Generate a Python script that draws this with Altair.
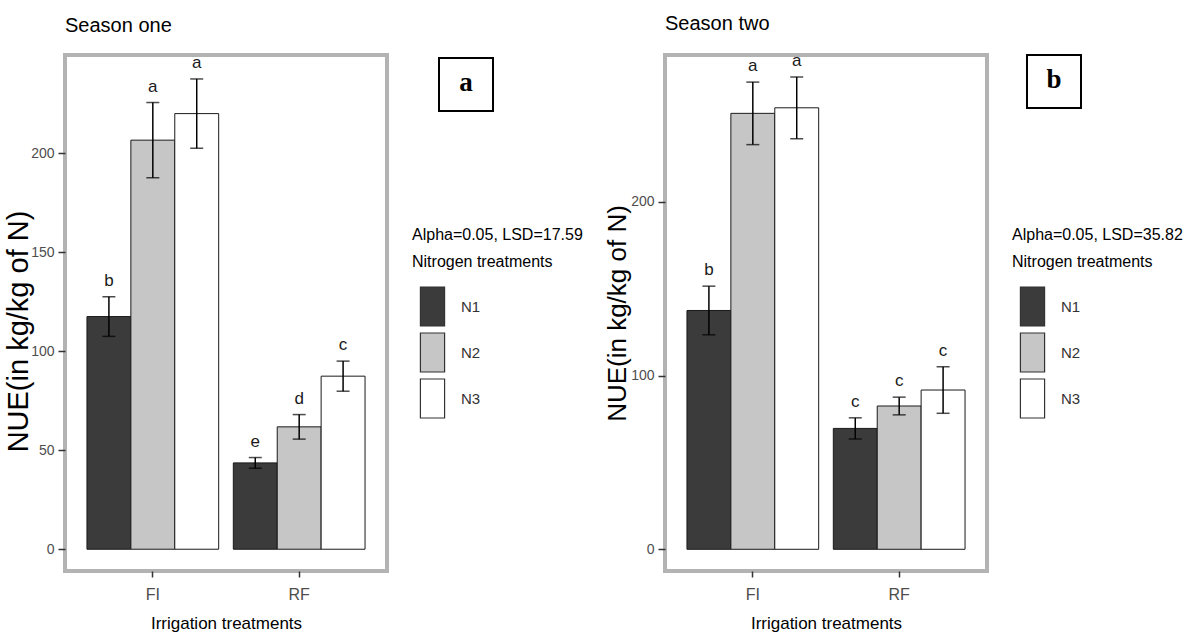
import altair as alt
import pandas as pd

# Treatments
irrigation = ["FI", "FI", "FI", "RF", "RF", "RF"]
nitrogen = ["N1", "N2", "N3", "N1", "N2", "N3"]

# Season one: mean NUE, error half-width, LSD grouping letters
s1_mean = [117.5, 206.6, 220.0, 43.6, 61.8, 87.4]
s1_err = [10.0, 19.0, 17.5, 2.7, 6.2, 7.6]
s1_letters = ["b", "a", "a", "e", "d", "c"]

# Season two
s2_mean = [137.5, 251.0, 254.2, 69.6, 82.5, 91.7]
s2_err = [14.0, 18.0, 17.8, 6.1, 5.1, 13.4]
s2_letters = ["b", "a", "a", "c", "c", "c"]

SANS = "Liberation Sans, Arial, sans-serif"
SERIF = "Liberation Serif, Times New Roman, serif"

fill_colors = ["#3b3b3b", "#c6c6c6", "#ffffff"]
# tall rectangular key, like ggplot's filled legend keys
key_shape = "M-0.62,-1H0.62V1H-0.62Z"


def season_panel(title, means, errs, letters, ydomain, yticks, lsd_title, tag, tag_x, tag_y,
                 ytitle_size, ytitle_pad, ytitle_y):
    df = pd.DataFrame({
        "irrigation": irrigation,
        "nitrogen": nitrogen,
        "nue": means,
        "lower": [m - e for m, e in zip(means, errs)],
        "upper": [m + e for m, e in zip(means, errs)],
        "letter": letters,
    })
    base = alt.Chart(df)
    x = alt.X(
        "irrigation:N",
        title="Irrigation treatments",
        scale=alt.Scale(paddingInner=0.1, paddingOuter=0.15),
        axis=alt.Axis(
            labelAngle=0, labelFont=SANS, labelFontSize=16, labelColor="#4d4d4d",
            labelPadding=9, tickSize=6, tickColor="#333333", tickWidth=1.5,
            domain=False, grid=False,
            titleFont=SANS, titleFontSize=17, titleFontWeight="normal",
            titleColor="#000000", titlePadding=13,
        ),
    )
    xo = alt.XOffset("nitrogen:N", scale=alt.Scale(paddingInner=0, paddingOuter=0))
    yscale = alt.Scale(domain=ydomain, nice=False, zero=False)

    bars = base.mark_bar(stroke="#1a1a1a", strokeWidth=1).encode(
        x=x,
        xOffset=xo,
        y=alt.Y(
            "nue:Q",
            scale=yscale,
            title="NUE(in kg/kg of N)",
            axis=alt.Axis(
                values=yticks, labelFont=SANS, labelFontSize=14, labelColor="#4d4d4d",
                labelPadding=4, tickSize=7, tickColor="#333333", tickWidth=1.5,
                domain=False, grid=False,
                titleFont=SANS, titleFontSize=ytitle_size, titleFontWeight="normal",
                titleColor="#000000", titlePadding=ytitle_pad, titleY=ytitle_y,
            ),
        ),
        y2=alt.datum(0),
        color=alt.Color(
            "nitrogen:N",
            scale=alt.Scale(domain=["N1", "N2", "N3"], range=fill_colors),
            legend=alt.Legend(
                title=[lsd_title, "Nitrogen treatments"],
                orient="none", legendX=347, legendY=172,
                titleFont=SANS, titleFontSize=16, titleFontWeight="normal",
                titleColor="#000000", titleLineHeight=27, titlePadding=16,
                titleLimit=400,
                labelFont=SANS, labelFontSize=15, labelColor="#333333",
                labelOffset=8,
                symbolType=key_shape, symbolSize=1521, symbolStrokeColor="#333333",
                symbolStrokeWidth=1.2, symbolOpacity=1, symbolFillColor="#ffffff",
                rowPadding=1,
            ),
        ),
    )
    whisk = base.mark_rule(color="#000000", strokeWidth=1.5).encode(
        x=x, xOffset=xo, y=alt.Y("lower:Q", scale=yscale), y2="upper:Q"
    )
    cap_hi = base.mark_tick(color="#000000", thickness=1.5, size=13).encode(
        x=x, xOffset=xo, y=alt.Y("upper:Q", scale=yscale)
    )
    cap_lo = base.mark_tick(color="#000000", thickness=1.5, size=13).encode(
        x=x, xOffset=xo, y=alt.Y("lower:Q", scale=yscale)
    )
    labels = base.mark_text(
        baseline="bottom", dy=-7, font=SANS, fontSize=17, color="#1a1a1a"
    ).encode(x=x, xOffset=xo, y=alt.Y("upper:Q", scale=yscale), text="letter:N")

    tag_df = pd.DataFrame({"tag": [tag]})
    tag_box = alt.Chart(tag_df).mark_rect(
        fill="#ffffff", stroke="#000000", strokeWidth=2
    ).encode(
        x=alt.value(tag_x), x2=alt.value(tag_x + 54),
        y=alt.value(tag_y), y2=alt.value(tag_y + 53),
    )
    tag_text = alt.Chart(tag_df).mark_text(
        font=SERIF, fontSize=27, fontWeight="bold",
        baseline="middle", align="center", color="#000000",
    ).encode(x=alt.value(tag_x + 27), y=alt.value(tag_y + 25), text="tag:N")

    return alt.layer(bars, whisk, cap_hi, cap_lo, labels, tag_box, tag_text).properties(
        width=322,
        height=516,
        title=alt.TitleParams(
            title, anchor="start", frame="group", font=SANS, fontSize=20,
            fontWeight="normal", color="#000000", offset=18,
        ),
    )


season_one = season_panel(
    "Season one", s1_mean, s1_err, s1_letters, [-11, 249.6], [0, 50, 100, 150, 200],
    "Alpha=0.05, LSD=17.59", "a", 374, 3,
    ytitle_size=29, ytitle_pad=-3, ytitle_y=276,
)
season_two = season_panel(
    "Season two", s2_mean, s2_err, s2_letters, [-12.5, 284.6], [0, 100, 200],
    "Alpha=0.05, LSD=35.82", "b", 362, 0,
    ytitle_size=26, ytitle_pad=0, ytitle_y=258,
)

chart = (
    alt.hconcat(season_one, season_two, spacing=17)
    .resolve_scale(color="independent")
    .properties(padding={"left": 2, "top": 11, "right": 2, "bottom": 0},
                background="#ffffff")
    .configure_view(stroke="#b3b3b3", strokeWidth=4)
)

chart.save("out.html", embed_options={"renderer": "svg", "actions": False})
